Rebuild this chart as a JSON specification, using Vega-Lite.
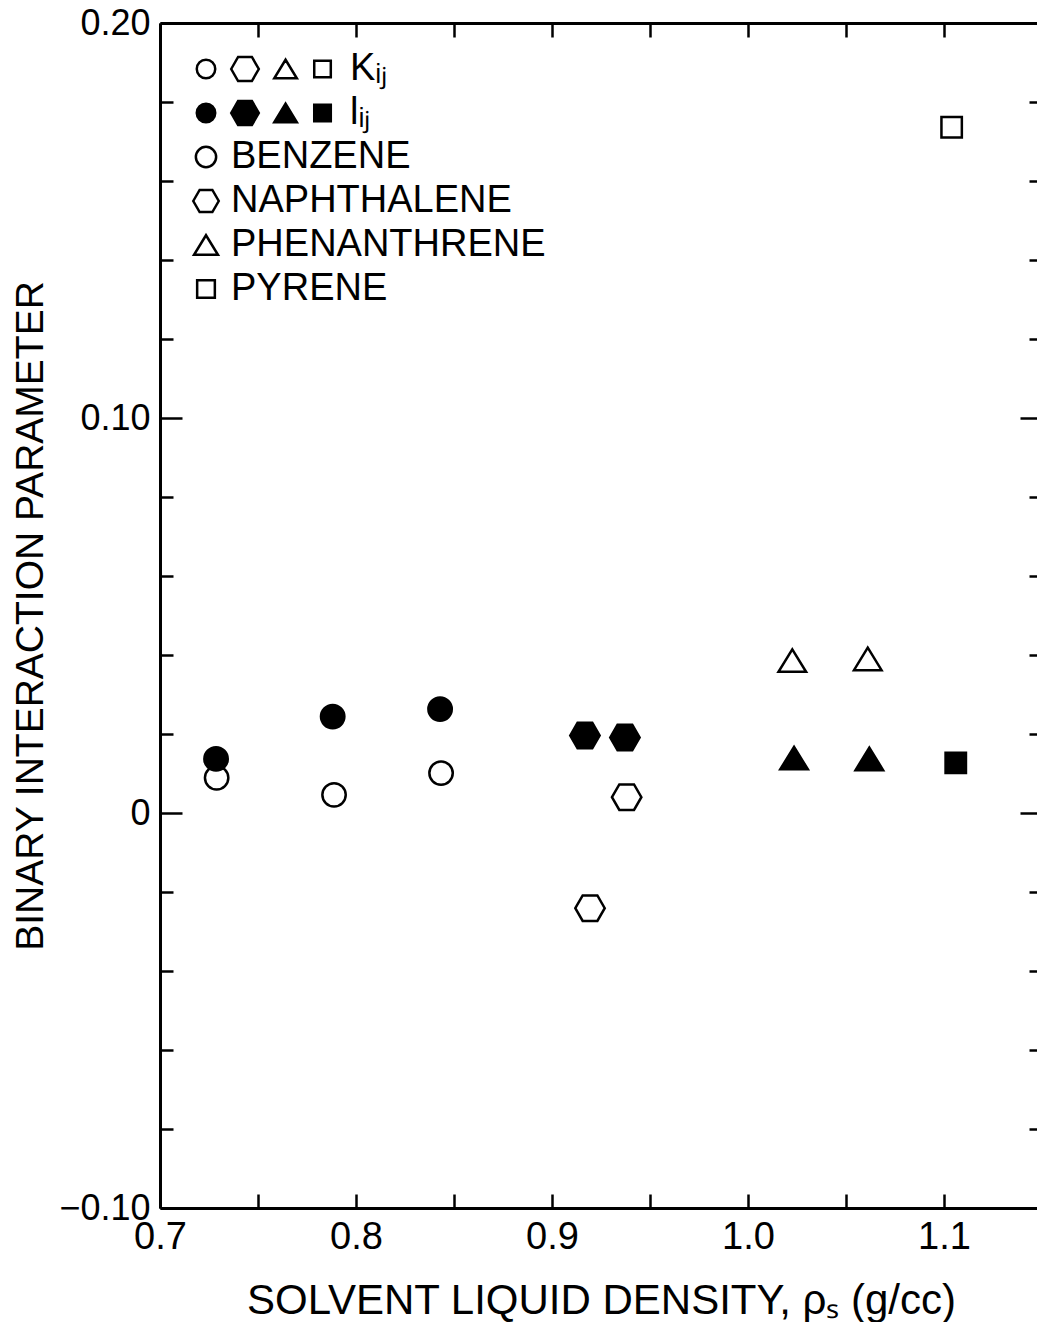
{
  "$schema": "https://vega.github.io/schema/vega-lite/v6.json",
  "autosize": {"type": "none"},
  "padding": {"left": 160, "top": 23, "right": 0, "bottom": 114},
  "width": 882,
  "height": 1185,
  "background": "white",
  "config": {
    "view": {"stroke": null},
    "font": "Liberation Sans",
    "legend": {"layout": {"top-left": {"direction": "vertical", "anchor": "start", "margin": 6}}}
  },
  "data": {
    "values": [
      {"density": 0.7289, "value": 0.0089, "compound": "BENZENE", "param": "Kij"},
      {"density": 0.7286, "value": 0.0137, "compound": "BENZENE", "param": "lij"},
      {"density": 0.7888, "value": 0.0046, "compound": "BENZENE", "param": "Kij"},
      {"density": 0.7881, "value": 0.0244, "compound": "BENZENE", "param": "lij"},
      {"density": 0.8434, "value": 0.0101, "compound": "BENZENE", "param": "Kij"},
      {"density": 0.8429, "value": 0.0263, "compound": "BENZENE", "param": "lij"},
      {"density": 0.9168, "value": 0.0196, "compound": "NAPHTHALENE", "param": "lij"},
      {"density": 0.9372, "value": 0.0191, "compound": "NAPHTHALENE", "param": "lij"},
      {"density": 0.9381, "value": 0.0040, "compound": "NAPHTHALENE", "param": "Kij"},
      {"density": 0.9194, "value": -0.0241, "compound": "NAPHTHALENE", "param": "Kij"},
      {"density": 1.0226, "value": 0.0386, "compound": "PHENANTHRENE", "param": "Kij"},
      {"density": 1.0611, "value": 0.0390, "compound": "PHENANTHRENE", "param": "Kij"},
      {"density": 1.0235, "value": 0.0139, "compound": "PHENANTHRENE", "param": "lij"},
      {"density": 1.0619, "value": 0.0137, "compound": "PHENANTHRENE", "param": "lij"},
      {"density": 1.1060, "value": 0.0127, "compound": "PYRENE", "param": "lij"},
      {"density": 1.1039, "value": 0.1736, "compound": "PYRENE", "param": "Kij"}
    ]
  },
  "layer": [
    {
      "transform": [{"filter": "false"}],
      "mark": {"type": "point", "filled": true, "stroke": "black", "strokeWidth": 2.5, "size": 900, "opacity": 1},
      "encoding": {
        "x": {"field": "density", "type": "quantitative", "axis": null},
        "y": {"field": "value", "type": "quantitative", "axis": null},
        "fill": {
          "field": "param", "type": "nominal",
          "scale": {"domain": ["Kij", "lij"], "range": ["white", "black"]},
          "legend": {
            "title": null, "orient": "top-left", "offset": 27, "padding": 0,
            "symbolType": "M-0.77,0A0.77,0.77,0,1,0,0.77,0A0.77,0.77,0,1,0,-0.77,0ZM2.1,0L2.675,-1L3.825,-1L4.4,0L3.825,1L2.675,1ZM6.63,-0.77L7.57,0.77L5.69,0.77ZM9.02,-0.69L10.4,-0.69L10.4,0.69L9.02,0.69Z",
            "symbolSize": 576, "symbolStrokeColor": "black", "symbolStrokeWidth": 2.5,
            "labelExpr": "datum.label == 'Kij' ? 'Kᵢⱼ' : 'lᵢⱼ'",
            "labelFont": "Liberation Sans", "labelFontSize": 38, "labelColor": "black", "labelOffset": 125, "labelLimit": 500,
            "rowPadding": 6
          }
        }
      }
    },
    {
      "mark": {"type": "point", "filled": true, "stroke": "black", "strokeWidth": 2.5, "size": 900, "opacity": 1},
      "encoding": {
        "x": {
          "field": "density", "type": "quantitative",
          "scale": {"domain": [0.7, 1.15], "nice": false, "zero": false},
          "axis": {
            "orient": "bottom",
            "values": [0.7, 0.75, 0.8, 0.85, 0.9, 0.95, 1.0, 1.05, 1.1, 1.15],
            "labelExpr": "abs(datum.value*10 - round(datum.value*10)) < 0.000001 ? format(datum.value, '.1f') : ''",
            "tickSize": -14, "tickWidth": 2.5, "tickColor": "black",
            "domainColor": "black", "domainWidth": 3,
            "labelFont": "Liberation Sans", "labelFontSize": 38, "labelColor": "black", "labelPadding": 24,
            "labelFlush": false, "labelOverlap": false,
            "grid": false,
            "title": "SOLVENT LIQUID DENSITY, ρₛ (g/cc)",
            "titleFont": "Liberation Sans", "titleFontSize": 42, "titleFontWeight": "normal", "titleColor": "black", "titlePadding": 24
          }
        },
        "y": {
          "field": "value", "type": "quantitative",
          "scale": {"domain": [-0.1, 0.2], "nice": false, "zero": false},
          "axis": {
            "orient": "left",
            "values": [-0.1, -0.08, -0.06, -0.04, -0.02, 0, 0.02, 0.04, 0.06, 0.08, 0.1, 0.12, 0.14, 0.16, 0.18, 0.2],
            "labelExpr": "abs(datum.value*10 - round(datum.value*10)) < 0.000001 ? (abs(datum.value) < 0.000001 ? '0' : format(datum.value, '.2f')) : ''",
            "tickSize": {"condition": {"test": "abs(datum.value*10 - round(datum.value*10)) < 0.000001", "value": -22}, "value": -13},
            "tickWidth": 2.5, "tickColor": "black",
            "domainColor": "black", "domainWidth": 3,
            "labelFont": "Liberation Sans", "labelFontSize": 36, "labelColor": "black", "labelPadding": 32,
            "labelFlush": false, "labelOverlap": false,
            "grid": false,
            "title": "BINARY INTERACTION PARAMETER",
            "titleFont": "Liberation Sans", "titleFontSize": 39, "titleFontWeight": "normal", "titleColor": "black", "titlePadding": 8
          }
        },
        "shape": {
          "field": "compound", "type": "nominal",
          "scale": {
            "domain": ["BENZENE", "NAPHTHALENE", "PHENANTHRENE", "PYRENE"],
            "range": [
              "M-0.78,0A0.78,0.78,0,1,0,0.78,0A0.78,0.78,0,1,0,-0.78,0Z",
              "M-0.98,0L-0.49,-0.85L0.49,-0.85L0.98,0L0.49,0.85L-0.49,0.85Z",
              "M0,-0.75L0.92,0.75L-0.92,0.75Z",
              "M-0.68,-0.68L0.68,-0.68L0.68,0.68L-0.68,0.68Z"
            ]
          },
          "legend": {
            "title": null, "orient": "top-left", "offset": 27, "padding": 0,
            "symbolSize": 676, "symbolFillColor": "white", "symbolStrokeColor": "black", "symbolStrokeWidth": 2.5,
            "labelFont": "Liberation Sans", "labelFontSize": 38, "labelColor": "black", "labelOffset": 6, "labelLimit": 500,
            "rowPadding": 6
          }
        },
        "fill": {
          "field": "param", "type": "nominal",
          "scale": {"domain": ["Kij", "lij"], "range": ["white", "black"]},
          "legend": {
            "title": null, "orient": "top-left", "offset": 27, "padding": 0,
            "symbolType": "M-0.77,0A0.77,0.77,0,1,0,0.77,0A0.77,0.77,0,1,0,-0.77,0ZM2.1,0L2.675,-1L3.825,-1L4.4,0L3.825,1L2.675,1ZM6.63,-0.77L7.57,0.77L5.69,0.77ZM9.02,-0.69L10.4,-0.69L10.4,0.69L9.02,0.69Z",
            "symbolSize": 576, "symbolStrokeColor": "black", "symbolStrokeWidth": 2.5,
            "labelExpr": "datum.label == 'Kij' ? 'Kᵢⱼ' : 'lᵢⱼ'",
            "labelFont": "Liberation Sans", "labelFontSize": 38, "labelColor": "black", "labelOffset": 125, "labelLimit": 500,
            "rowPadding": 6
          }
        }
      }
    },
    {
      "mark": {"type": "point", "opacity": 0},
      "encoding": {
        "x": {
          "field": "density", "type": "quantitative",
          "axis": {
            "orient": "top",
            "values": [0.7, 0.75, 0.8, 0.85, 0.9, 0.95, 1.0, 1.05, 1.1, 1.15],
            "labels": false, "title": null, "grid": false,
            "tickSize": -14, "tickWidth": 2.5, "tickColor": "black",
            "domainColor": "black", "domainWidth": 3
          }
        },
        "y": {
          "field": "value", "type": "quantitative",
          "axis": {
            "orient": "right",
            "values": [-0.1, -0.08, -0.06, -0.04, -0.02, 0, 0.02, 0.04, 0.06, 0.08, 0.1, 0.12, 0.14, 0.16, 0.18, 0.2],
            "labels": false, "title": null, "grid": false,
            "tickSize": {"condition": {"test": "abs(datum.value*10 - round(datum.value*10)) < 0.000001", "value": -22}, "value": -13},
            "tickWidth": 2.5, "tickColor": "black",
            "domainColor": "black", "domainWidth": 3
          }
        }
      }
    }
  ],
  "resolve": {"axis": {"x": "independent", "y": "independent"}}
}
